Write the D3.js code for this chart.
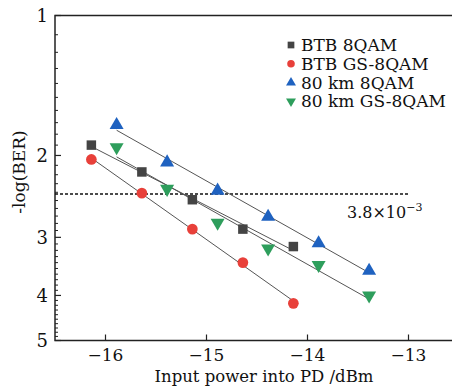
<!DOCTYPE html>
<html><head><meta charset="utf-8">
<script src="https://cdn.jsdelivr.net/npm/d3@7"></script>
<style>body{margin:0;background:#fff}svg{display:block}text{font-family:"DejaVu Serif","Liberation Serif",serif;fill:#111}</style>
</head><body><svg id="c" width="452" height="386"></svg>
<script>
const xTicks = [-16, -15, -14, -13];
const yTicks = [1, 2, 3, 4, 5];
const btbPower = [-16.14, -15.64, -15.14, -14.64, -14.14];
const kmPower = [-15.89, -15.39, -14.89, -14.39, -13.89, -13.39];
const btb8qam = [1.90, 2.17, 2.49, 2.88, 3.14];
const btbGs8qam = [2.04, 2.41, 2.88, 3.40, 4.16];
const km8qam = [1.72, 2.07, 2.38, 2.71, 3.09, 3.54];
const kmGs8qam = [1.92, 2.36, 2.79, 3.17, 3.44, 4.00];
const seriesNames = ["BTB 8QAM", "BTB GS-8QAM", "80 km 8QAM", "80 km GS-8QAM"];
const seriesColors = ["#444444", "#e8403a", "#1f62c0", "#2e9e5c"];
const thresholdBER = 3.8e-3;

const svg = d3.select("#c");
const x = d3.scaleLinear().domain([-16.5, -12.5]).range([55, 459]);
const y = d3.scaleLog().domain([1, 5]).range([15.5, 340.5]);

const series = [
  {name: seriesNames[0], xs: btbPower, ys: btb8qam, color: seriesColors[0], sym: d3.symbolSquare, size: 90, rot: 0},
  {name: seriesNames[1], xs: btbPower, ys: btbGs8qam, color: seriesColors[1], sym: d3.symbolCircle, size: 90, rot: 0},
  {name: seriesNames[2], xs: kmPower, ys: km8qam, color: seriesColors[2], sym: d3.symbolTriangle, size: 85, rot: 0},
  {name: seriesNames[3], xs: kmPower, ys: kmGs8qam, color: seriesColors[3], sym: d3.symbolTriangle, size: 85, rot: 180}
];

const g = svg.append("g");
g.append("path").attr("d", `M452,${y(1)}H${x(-16.5)}V${y(5)}H452`).attr("fill","none").attr("stroke","#222").attr("stroke-width",1.5);

// y ticks
const minor = [];
for (let a = 1; a < 5; a++) for (let b = 1; b < 10; b++) minor.push(+(a + b/10).toFixed(1));
g.selectAll(".ym").data(minor).enter().append("line")
  .attr("x1", x(-16.5)).attr("x2", x(-16.5)+3).attr("y1", d=>y(d)).attr("y2", d=>y(d)).attr("stroke","#222").attr("stroke-width",1);
g.selectAll(".yM").data(yTicks).enter().append("line")
  .attr("x1", x(-16.5)).attr("x2", x(-16.5)+6).attr("y1", d=>y(d)).attr("y2", d=>y(d)).attr("stroke","#222").attr("stroke-width",1.2);
g.selectAll(".yl").data(yTicks).enter().append("text")
  .attr("x", 48).attr("y", d=>y(d)).attr("dy","0.35em").attr("text-anchor","end").attr("font-size",18).text(d=>d);

// x ticks
g.selectAll(".xM").data(xTicks).enter().append("line")
  .attr("x1", d=>x(d)).attr("x2", d=>x(d)).attr("y1", y(5)).attr("y2", y(5)-6).attr("stroke","#222").attr("stroke-width",1.2);
g.selectAll(".xl").data(xTicks).enter().append("text")
  .attr("x", d=>x(d)).attr("y", 361).attr("text-anchor","middle").attr("font-size",17).text(d=>"\u2212"+Math.abs(d));

// axis titles
g.append("text").attr("x", 264).attr("y", 382).attr("text-anchor","middle").attr("font-size",16.5).text("Input power into PD /dBm");
g.append("text").attr("transform","translate(25,172) rotate(-90)").attr("text-anchor","middle").attr("font-size",17).text("-log(BER)");

// threshold
const thr = -Math.log10(thresholdBER);
g.append("line").attr("x1", x(-16.5)).attr("x2", x(-13)).attr("y1", y(thr)).attr("y2", y(thr))
  .attr("stroke","#111").attr("stroke-width",1.5).attr("stroke-dasharray","3,2");
const ann = g.append("text").attr("x", 347).attr("y", 218).attr("font-size",16);
ann.append("tspan").text("3.8\u00d710");
ann.append("tspan").attr("dy",-7).attr("font-size",11).text("\u22123");

// fit lines (least squares in log space)
series.forEach(s => {
  const n = s.xs.length;
  const ly = s.ys.map(v => Math.log10(v));
  const mx = d3.mean(s.xs), my = d3.mean(ly);
  let num = 0, den = 0;
  for (let i = 0; i < n; i++) { num += (s.xs[i]-mx)*(ly[i]-my); den += (s.xs[i]-mx)**2; }
  const k = num/den, b0 = my - k*mx;
  const x0 = d3.min(s.xs), x1 = d3.max(s.xs);
  g.append("line").attr("x1", x(x0)).attr("x2", x(x1))
    .attr("y1", y(Math.pow(10, k*x0+b0))).attr("y2", y(Math.pow(10, k*x1+b0)))
    .attr("stroke","#555").attr("stroke-width",1);
});

// markers
series.forEach(s => {
  g.selectAll(null).data(s.xs.map((v,i)=>[v, s.ys[i]])).enter().append("path")
    .attr("d", d3.symbol().type(s.sym).size(s.size))
    .attr("transform", d => `translate(${x(d[0])},${y(d[1])}) rotate(${s.rot})`)
    .attr("fill", s.color);
});

// legend
const lg = g.append("g");
series.forEach((s, i) => {
  const yy = 45 + i*18.8;
  lg.append("path").attr("d", d3.symbol().type(s.sym).size(s.size*0.5))
    .attr("transform", `translate(291,${yy}) rotate(${s.rot})`).attr("fill", s.color);
  lg.append("text").attr("x", 301).attr("y", yy).attr("dy","0.35em").attr("font-size",17).text(s.name);
});
</script></body></html>
